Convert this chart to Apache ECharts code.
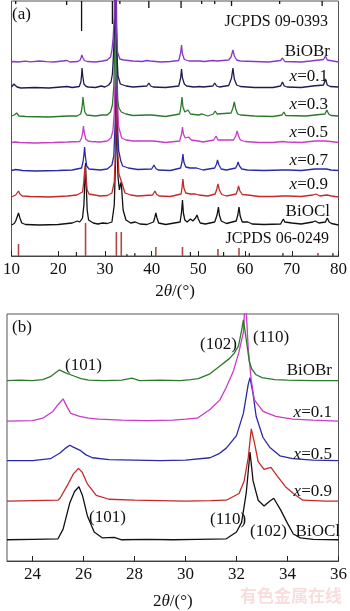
<!DOCTYPE html>
<html><head><meta charset="utf-8">
<script src="https://cdn.jsdelivr.net/npm/echarts@6/dist/echarts.min.js"></script>
<style>html,body{margin:0;padding:0;background:#fff}#c{width:350px;height:611px}</style>
</head><body><div id="c"></div>
<script>
// ---------- Panel (a): full-range patterns (intensity above own baseline) ----------
const ticksA = [10,20,30,40,50,60,70,80];
const ticksB = [24,26,28,30,32,34,36];
const namesA = ['BiOBr','x=0.1','x=0.3','x=0.5','x=0.7','x=0.9','BiOCl'];
const offsetsA = [194,168,139,113,85,59,31];
const colorsA = ['#8a38c4','#1d1d52','#2b7a2b','#c83cc8','#2a2aa8','#c42a2a','#111111'];

const aBr = [[10,0],[10.5,0.5],[10.9,2],[11.4,0],[13,0.8],[14,0.2],[16,1],[17.5,0.3],[19,0],[21.9,1.5],[22.5,0],[24.2,0.5],[24.7,2],[24.9,4.5],[25.05,7],[25.25,4.5],[25.6,1.5],[26.2,0.5],[28,0],[29.5,1],[30.5,2],[31.2,5],[31.5,12],[31.75,24],[32.0,45],[32.1,100],[32.2,260],[32.3,100],[32.45,35],[32.7,10],[33.2,3],[34,2],[36,1],[38,0.5],[39.0,1.5],[39.3,2.5],[39.7,1],[42,0],[44,0.5],[45.8,1.5],[46.2,9],[46.4,17],[46.6,8],[47.0,2.5],[48,1],[50.4,1],[50.7,2],[51.2,0.5],[53.1,1.5],[53.5,3],[54,1],[56.5,2],[57.0,5],[57.4,12],[57.7,6],[58.2,2],[59,1],[62,0.5],[65,0],[67.6,1.5],[68.0,4],[68.5,0.5],[72,0],[74,1],[76.8,2.5],[77.2,6],[77.6,2],[80,0]];
const aX01 = [[10,1],[10.2,3],[10.5,4],[10.8,2],[11.2,1],[12,0],[15,0.5],[18,0],[21.9,1.5],[23,0.5],[24.5,1.5],[24.85,6],[25.0,13],[25.1,20],[25.25,12],[25.5,4],[26.0,1.5],[26.5,1],[28,0.5],[29.2,2],[30,1],[30.8,3],[31.3,6],[31.6,14],[31.8,30],[32.05,60],[32.15,120],[32.25,240],[32.35,110],[32.5,40],[32.8,12],[33.3,4],[34.5,2],[36,1],[39.0,2],[39.4,5],[39.8,2],[40.3,1],[43,0.5],[45.8,2],[46.2,10],[46.4,19],[46.6,10],[47.0,4],[47.5,2],[49,1],[50.3,1.5],[50.6,3],[51,1],[53.1,2],[53.5,5],[53.9,2],[54.5,1],[56.5,2.5],[57.1,10],[57.4,20],[57.7,9],[58.2,3],[59,1.5],[62,0.5],[66,0.5],[67.6,2],[68.0,6],[68.4,2],[69,1],[72,0.5],[74.5,2],[76.8,3],[77.2,9],[77.6,3],[78.2,1.5],[80,1]];
const aX03 = [[10,1],[10.6,2],[11.1,4],[11.6,1],[13,0.5],[18,0],[22,1],[24,1],[24.8,3],[25.05,8],[25.2,14],[25.3,20],[25.45,13],[25.7,5],[26.1,2],[26.5,1.5],[28,1],[29.4,2],[30.5,2],[31.2,5],[31.6,12],[31.9,30],[32.1,70],[32.2,130],[32.3,220],[32.4,120],[32.55,50],[32.75,16],[33.0,9],[33.2,10],[33.5,5],[34.5,3],[36,1.5],[39.2,2],[39.6,4],[40.0,2],[40.4,1],[43,0.5],[46.0,3],[46.3,11],[46.5,20],[46.7,10],[47.1,5],[47.8,7],[48.3,3],[50,2],[50.8,3],[52,1],[53.2,3],[53.6,6],[54.0,3],[54.4,2],[57.0,4],[57.4,9],[57.7,15],[58.0,8],[58.4,3],[59,2],[62,1],[66,0.5],[67.9,2],[68.3,5],[68.7,1.5],[73,1],[75,2],[77.1,3],[77.5,7],[77.9,3],[78.4,1.5],[80,1]];
const aX05 = [[10,0.5],[10.8,1],[11.2,2.5],[11.8,0.5],[15,0],[19,0.5],[22,1],[24.6,1.5],[25.0,5],[25.25,11],[25.4,17],[25.55,11],[25.9,4],[26.4,2],[27,1.5],[29,1],[30.5,2],[31.3,5],[31.7,12],[32.0,30],[32.2,70],[32.3,120],[32.4,200],[32.5,110],[32.65,50],[32.9,17],[33.3,10],[33.6,5],[34.5,3],[36,2],[39.6,2],[40.0,4],[40.4,2],[40.8,1],[43,0.5],[46.0,2],[46.4,9],[46.6,16],[46.8,9],[47.2,5],[47.9,6],[48.5,3],[50,2],[51,1],[53.3,3],[53.8,7],[54.2,3],[54.6,2],[57.5,3],[58.0,7],[58.3,12],[58.6,7],[59.0,3],[60,1.5],[63,0.5],[66,0.5],[68.0,1.5],[68.4,3],[69,1],[72,0.5],[75,2],[77.3,2],[77.7,4],[78.2,1.5],[80,0.5]];
const aX07 = [[10,0.5],[10.9,1.5],[11.3,3],[11.7,1],[12.3,0.5],[15,0],[20,0.5],[23,1],[25.0,3],[25.3,9],[25.5,16],[25.65,24],[25.8,15],[26.1,5],[26.6,2],[27,1.5],[29,1],[30.5,2],[31.5,6],[31.9,15],[32.2,50],[32.35,100],[32.45,170],[32.55,95],[32.7,45],[32.95,20],[33.4,10],[33.8,5],[35,3],[37,1.5],[40.0,2],[40.5,6],[40.9,2.5],[41.4,1],[44,0.5],[46.2,3],[46.5,9],[46.7,17],[46.9,9],[47.3,4],[48.2,3],[49.6,3],[51,1],[53.5,3],[53.9,7],[54.1,11],[54.4,6],[54.9,2],[56,1],[58.0,3],[58.3,6],[58.5,9],[58.8,5],[59.3,2],[60.5,1],[64,0.5],[68.1,1],[68.5,3],[69.2,1],[72,0.5],[75,2],[77.4,2],[77.8,4],[78.4,1],[80,0.5]];
const aX09 = [[10,0],[10.9,2],[11.2,4],[11.5,6],[11.8,3],[12.3,1],[14,0.5],[18,0],[22,1],[24,2],[25.2,5],[25.45,14],[25.6,24],[25.75,31],[25.9,22],[26.2,7],[26.6,3],[27,2],[29,1],[30.5,1.5],[31.5,4],[32.0,15],[32.3,50],[32.4,95],[32.5,150],[32.6,90],[32.75,45],[33.0,23],[33.2,22],[33.4,25],[33.7,13],[34.3,4],[35.5,2],[37,1],[40.2,2],[40.7,6],[41.1,2.5],[41.6,1],[44,0.5],[46.3,3],[46.5,9],[46.7,18],[46.9,9],[47.3,4],[48.3,3],[49.4,3],[49.7,5],[50.1,2],[50.5,1.5],[52,1],[53.6,3],[53.95,8],[54.2,13],[54.5,7],[55.0,2.5],[56,1],[58.1,3],[58.4,7],[58.6,11],[58.9,6],[59.4,2.5],[60.6,2],[63,0.5],[66,0.5],[68.2,1],[68.6,3],[69.2,1],[72,0.5],[74.5,2],[75.2,3],[76,1],[77.5,2],[77.9,4],[78.5,1],[80,0]];
const aCl = [[10,0],[10.6,1.5],[10.9,4],[11.2,8],[11.5,12],[11.8,7],[12.2,2],[13,0.5],[16,0],[20,0.5],[23,2],[24.1,4],[24.6,3],[25.2,7],[25.5,20],[25.7,45],[25.85,62],[26.0,40],[26.2,15],[26.5,5],[26.9,3],[27.5,2],[28.5,1],[29.5,2],[30.5,1.5],[31.5,3],[32.0,20],[32.25,60],[32.45,120],[32.6,80],[32.8,48],[33.1,35],[33.3,40],[33.5,43],[33.7,28],[33.9,15],[34.5,5],[35.5,2],[36.5,3],[37.5,1],[39,0.5],[40.4,3],[40.7,8],[40.9,12],[41.15,7],[41.5,2],[43,0.5],[46.1,3],[46.4,13],[46.6,25],[46.8,12],[47.1,5],[47.6,3],[48.3,6],[48.8,4],[49.4,7],[49.7,10],[50.0,6],[50.4,2],[51.5,1],[53.5,3],[54.0,10],[54.3,18],[54.5,10],[54.9,4],[55.2,4],[56,1.5],[58.1,4],[58.45,10],[58.7,18],[58.95,9],[59.4,3],[60.6,3],[61.5,1],[64,0.5],[67.6,1],[67.9,3],[68.2,6],[68.5,3],[68.9,1.5],[70,2],[72,1],[74.5,3],[75,4],[75.8,2],[77.2,3],[77.6,7],[78.0,3],[78.5,1.5],[79,1],[80,0]];
const tracesA = [aBr,aX01,aX03,aX05,aX07,aX09,aCl];

// reference sticks: [2theta, relative length]
const refBr = [[10.9,3],[21.8,4],[25.0,30],[31.6,23],[32.2,30],[33.2,3],[39.4,7],[46.3,7],[50.7,3],[53.5,3],[57.1,5],[67.4,3],[76.5,5]];
const refClMain = [[11.5,12],[25.85,33],[32.45,24],[33.5,24],[40.9,9],[46.6,9],[54.2,7],[58.7,8],[75.6,3]];
const refClMinor = [[23.9,4],[34.7,2],[36.4,3],[48.3,4],[55.4,4],[60.9,3],[68.1,3],[78.8,3]];

// ---------- Panel (b): zoomed 23-36 ----------
const namesB = ['BiOBr','x=0.1','x=0.5','x=0.9','BiOCl'];
const offsetsB = [187,145,104,62,22];
const colorsB = ['#2b7a2b','#c83cc8','#2a2aa8','#c42a2a','#111111'];
const bBr = [[23,0],[23.5,0.5],[24,0],[24.4,1],[24.7,4],[24.9,8],[25.05,11],[25.3,8],[25.6,5],[25.9,2],[26.2,0.5],[26.8,0],[27.5,0.5],[27.9,2.5],[28.2,0],[29,0.5],[29.8,0],[30.2,1],[30.5,2],[30.96,7],[31.35,15],[31.73,23],[31.9,28],[32.08,36],[32.2,52],[32.27,63],[32.38,43],[32.5,20],[32.6,12],[32.77,6],[33.0,3],[33.5,1],[34,0.5],[35,0],[36,0]];
const bX01 = [[23,0],[24,0.5],[24.4,3],[24.8,10],[25.0,17],[25.2,23],[25.35,15],[25.5,8],[25.85,5],[26.2,3],[26.6,2],[27.5,1],[28.5,0.5],[29.5,1],[30.0,2],[30.46,3],[30.96,12],[31.35,22],[31.6,35],[31.88,52],[32.08,70],[32.27,92],[32.35,130],[32.46,75],[32.58,42],[32.7,22],[33.04,10],[33.54,5],[34.2,2],[35,1],[36,0]];
const bX05 = [[23,0],[24,0],[24.7,2],[25.08,8],[25.3,13],[25.46,16],[25.6,14],[25.85,11],[26.1,6],[26.35,3],[27,1],[28,0.5],[29,0],[30,0.5],[30.96,3],[31.3,7],[31.6,13],[32.0,26],[32.27,49],[32.46,79],[32.53,86],[32.65,69],[32.77,46],[33.04,24],[33.3,14],[33.7,5],[34.2,2],[35,0.5],[36,0]];
const bX09 = [[23,0],[24,0.5],[25,1],[25.08,3],[25.4,18],[25.6,28],[25.8,34],[25.95,30],[26.15,18],[26.5,6],[27,2],[28,1],[29,0.5],[30,0],[31,0.5],[31.6,1],[32.1,8],[32.3,21],[32.46,45],[32.58,75],[32.7,61],[32.85,41],[33.08,33],[33.35,35],[33.6,26],[33.92,15],[34.23,8],[34.6,1],[35.5,0],[36,0]];
const bCl = [[23,0],[24,0.5],[25,1],[25.2,11],[25.46,38],[25.65,50],[25.82,55],[25.96,46],[26.15,25],[26.42,8],[26.73,2],[27.2,2.5],[27.5,0],[28.5,0.5],[29.5,0],[30.5,0.5],[31.6,1],[32.0,8],[32.2,18],[32.38,48],[32.53,91],[32.65,61],[32.85,41],[33.08,35],[33.3,40],[33.46,43],[33.73,31],[34.0,17],[34.23,6],[34.5,2],[35,0.5],[36,0]];
const tracesB = [bBr,bX01,bX05,bX09,bCl];

const YMAX_A = 255, YMAX_B = 256;
const FONT = '"Liberation Serif", "Times New Roman", serif';

function shift(arr, off){ return arr.map(p => [p[0], p[1] + off]); }
function stickSeries(data, color, fromTop, width){
  return {
    type:'custom', xAxisIndex:0, yAxisIndex:0, silent:true, clip:true,
    data: data, encode:{x:0,y:1},
    renderItem: function(params, api){
      const x = api.value(0), len = api.value(1);
      const a = fromTop ? api.coord([x, YMAX_A]) : api.coord([x, 0]);
      const b = fromTop ? api.coord([x, YMAX_A - len]) : api.coord([x, len]);
      return {type:'line', shape:{x1:a[0],y1:a[1],x2:b[0],y2:b[1]}, style:{stroke:color, lineWidth:width}};
    }
  };
}

const series = [];
tracesA.forEach((t,i) => series.push({type:'line', xAxisIndex:0, yAxisIndex:0, data: shift(t, offsetsA[i]), showSymbol:false, symbol:'none', lineStyle:{color:colorsA[i], width:1.3}, clip:true, silent:true, z: 10 - i}));
tracesB.forEach((t,i) => series.push({type:'line', xAxisIndex:1, yAxisIndex:1, data: shift(t, offsetsB[i]), showSymbol:false, symbol:'none', lineStyle:{color:colorsB[i], width:1.3}, clip:true, silent:true, z: 10 - i}));
series.push(stickSeries(refBr, '#111', true, 1.3));
series.push(stickSeries(refClMain, '#b04848', false, 1.6));
series.push(stickSeries(refClMinor, '#222', false, 1.2));

function axisX(grid, min, max, ticks, gap){
  return {
    type:'value', gridIndex:grid, min:min, max:max,
    axisLine:{show:true, lineStyle:{color:'#444', width:1}},
    axisTick:{show:true, inside:true, length:5, customValues:ticks, lineStyle:{color:'#222'}},
    axisLabel:{show:true, customValues:ticks, margin:5, color:'#111', fontSize:17, fontFamily:FONT, showMinLabel:true, showMaxLabel:true},
    splitLine:{show:false},
    name:'2{i|θ}/(°)', nameLocation:'middle', nameGap:gap,
    nameTextStyle:{color:'#111', fontSize:17, fontFamily:FONT, rich:{i:{fontStyle:'italic', fontSize:17, fontFamily:FONT, color:'#111'}}}
  };
}

function txt(x, y, text, align, size){
  return {type:'text', x:x, y:y, z:100, style:{text:text, textAlign:align||'right', textVerticalAlign:'middle', fontSize:size||17, fontFamily:FONT, fill:'#111',
    rich:{i:{fontStyle:'italic', fontSize:size||17, fontFamily:FONT, fill:'#111'}}}};
}
function lbl(n){ return n.startsWith('x=') ? '{i|x}' + n.slice(1) : n; }

const graphics = [
  txt(12, 15, '(a)', 'left'),
  txt(328, 22, 'JCPDS 09-0393', 'right', 16),
  txt(329, 239, 'JCPDS 06-0249', 'right', 16),
  txt(330, 52, lbl(namesA[0])), txt(328, 77, lbl(namesA[1])), txt(328, 105, lbl(namesA[2])),
  txt(328, 133, lbl(namesA[3])), txt(328, 161, lbl(namesA[4])), txt(328, 185, lbl(namesA[5])),
  txt(330, 212, lbl(namesA[6])),
  txt(12, 328, '(b)', 'left'),
  txt(332, 371, lbl(namesB[0])), txt(332, 413, lbl(namesB[1])), txt(332, 455, lbl(namesB[2])),
  txt(332, 492, lbl(namesB[3])), txt(340, 532, lbl(namesB[4])),
  txt(65, 366, '(101)', 'left'), txt(200, 345, '(102)', 'left'), txt(253, 338, '(110)', 'left'),
  txt(89, 518, '(101)', 'left'), txt(210, 520, '(110)', 'left'), txt(250, 532, '(102)', 'left'),
  {type:'text', x:291, y:596, z:100, style:{text:'有色金属在线', textAlign:'center', textVerticalAlign:'middle', fontSize:17, fontWeight:'bold', fontFamily:'"Noto Sans CJK SC"', fill:'rgba(235,140,140,0.3)'}}
];

const chart = echarts.init(document.getElementById('c'), null, {renderer:'canvas'});
chart.setOption({
  animation:false,
  backgroundColor:'#fff',
  grid:[
    {left:7, right:8, top:1, height:255, show:true, borderColor:'#555', borderWidth:1, containLabel:false},
    {left:7, right:8, top:314, height:256, show:true, borderColor:'#555', borderWidth:1, containLabel:false}
  ],
  xAxis:[ axisX(0, 10, 80, ticksA, 27), axisX(1, 23, 36, ticksB, 32) ],
  yAxis:[
    {type:'value', gridIndex:0, min:0, max:YMAX_A, show:false, splitLine:{show:false}},
    {type:'value', gridIndex:1, min:0, max:YMAX_B, show:false, splitLine:{show:false}}
  ],
  series: series,
  graphic: graphics
});
</script></body></html>
